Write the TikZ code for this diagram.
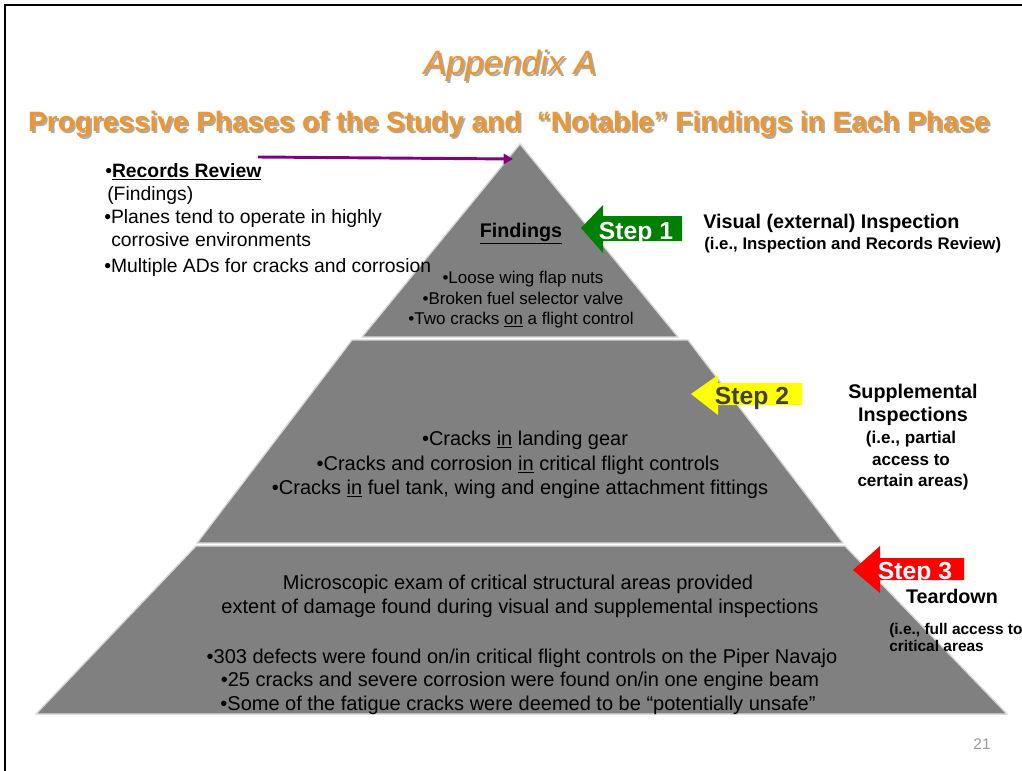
\documentclass[tikz,border=0pt]{standalone}
\usepackage{fontspec}
\setmainfont{Liberation Sans}
\usetikzlibrary{arrows.meta}
\definecolor{orng}{RGB}{238,150,45}
\definecolor{shd}{RGB}{170,170,170}
\definecolor{pyr}{RGB}{128,128,128}
\definecolor{bandline}{RGB}{215,215,215}
\definecolor{stepgreen}{RGB}{0,128,0}
\definecolor{stepyellow}{RGB}{255,255,0}
\definecolor{stepred}{RGB}{255,0,0}
\definecolor{purp}{RGB}{128,0,128}
\definecolor{darktxt}{RGB}{64,64,64}
\newcommand{\myfs}[1]{\fontsize{#1}{#1}\selectfont}
\tikzset{
  band/.style={fill=pyr, draw=bandline, line width=1pt},
  t/.style={inner sep=0pt, anchor=base},
  tl/.style={inner sep=0pt, anchor=base west},
  lefttxt/.style={tl, font=\myfs{14.5}},
  toptxt/.style={t, font=\myfs{12.75}},
  midtxt/.style={t, font=\myfs{15}},
  rbold/.style={t, font=\myfs{14.8}\bfseries},
  rsmall/.style={t, font=\myfs{12.8}\bfseries},
  steptxt/.style={t, font=\myfs{18.5}\bfseries},
}
\begin{document}
\begin{tikzpicture}[x=0.75pt,y=-0.75pt]
\useasboundingbox (0,0) rectangle (1022,771);
\fill[white] (0,0) rectangle (1022,771);
% frame
\draw[line width=1.6pt] (5,771) -- (5,5) -- (1022,5);
% titles
\node[t, text=shd, font=\myfs{25.3}\itshape] (titleS) at (512,76) {Appendix A};
\node[t, text=orng, font=\myfs{25.3}\itshape] (title) at (510,74) {Appendix A};
\node[t, text=shd, font=\myfs{21}\bfseries] (subS) at (511,133) {Progressive Phases of the Study and\ \ “Notable” Findings in Each Phase};
\node[t, text=orng, font=\myfs{21}\bfseries] (sub) at (509,131) {Progressive Phases of the Study and\ \ “Notable” Findings in Each Phase};
% pyramid bands
\draw[band] (520,144) -- (678,337) -- (362,337) -- cycle;
\draw[band] (352,340) -- (688,340) -- (843,543) -- (197,543) -- cycle;
\draw[band] (196,546) -- (845,546) -- (1007,714) -- (36,714) -- cycle;
% left text
\node[lefttxt] (rr) at (105,177) {•\underline{\textbf{Records Review}}};
\node[lefttxt] (rf) at (107,200) {(Findings)};
\node[lefttxt] (rp1) at (104,223) {•Planes tend to operate in highly};
\node[lefttxt] (rp2) at (111,246) {corrosive environments};
\node[lefttxt] (rm) at (104,272) {•Multiple ADs for cracks and corrosion};
% purple arrow
\coordinate (pa) at (258,157);
\coordinate (apex) at (513,159);
\draw[purp, line width=2.2pt, -{Triangle[length=7pt,width=7.5pt]}] (pa) -- (apex);
% top band text
\node[t, font=\myfs{14.8}\bfseries] (find) at (521,237) {\underline{Findings}};
\node[toptxt] (t1) at (523,283) {•Loose wing flap nuts};
\node[toptxt] (t2) at (523,304) {•Broken fuel selector valve};
\node[toptxt] (t3) at (521,324) {•Two cracks \underline{on} a flight control};
% middle band text
\node[midtxt] (m1) at (525,445) {•Cracks \underline{in} landing gear};
\node[midtxt] (m2) at (518,470) {•Cracks and corrosion \underline{in} critical flight controls};
\node[midtxt] (m3) at (520,494) {•Cracks \underline{in} fuel tank, wing and engine attachment fittings};
% bottom band text
\node[midtxt] (b1) at (518,589) {Microscopic exam of critical structural areas provided};
\node[midtxt] (b2) at (520,613) {extent of damage found during visual and supplemental inspections};
\node[midtxt] (b3) at (522,663) {•303 defects were found on/in critical flight controls on the Piper Navajo};
\node[midtxt] (b4) at (520,686) {•25 cracks and severe corrosion were found on/in one engine beam};
\node[midtxt] (b5) at (518,710) {•Some of the fatigue cracks were deemed to be “potentially unsafe”};
% step arrows
\fill[stepgreen] (581,228) -- (603,205) -- (603,216) -- (682,216) -- (682,241) -- (603,241) -- (603,253) -- cycle;
\node[steptxt, text=white] (s1) at (636,239) {Step 1};
\fill[stepyellow] (691,394) -- (718,375) -- (718,383) -- (802,383) -- (802,405) -- (718,405) -- (718,415) -- cycle;
\node[steptxt, text=darktxt] (s2) at (752,404) {Step 2};
\fill[stepred] (853,570) -- (880,546) -- (880,558) -- (964,558) -- (964,580) -- (880,580) -- (880,593) -- cycle;
\node[steptxt, text=white] (s3) at (915,579) {Step 3};
% right labels
\node[tl, font=\myfs{14.8}\bfseries] (v1) at (703,228) {Visual (external) Inspection};
\node[tl, font=\myfs{12.6}\bfseries] (v2) at (704,249) {(i.e., Inspection and Records Review)};
\node[rbold] (sp1) at (913,398) {Supplemental};
\node[rbold] (sp2) at (913,421) {Inspections};
\node[rsmall] (sp3) at (911,443) {(i.e., partial};
\node[rsmall] (sp4) at (911,465) {access to};
\node[rsmall] (sp5) at (913,486) {certain areas)};
\node[rbold] (td) at (952,603) {Teardown};
\node[tl, font=\myfs{11.6}\bfseries] (td1) at (889,634) {(i.e., full access to};
\node[tl, font=\myfs{11.6}\bfseries] (td2) at (889,651) {critical areas};
% page number
\node[t, text=gray!80, font=\myfs{11.5}] (pg) at (982,749) {21};
\end{tikzpicture}
\end{document}
